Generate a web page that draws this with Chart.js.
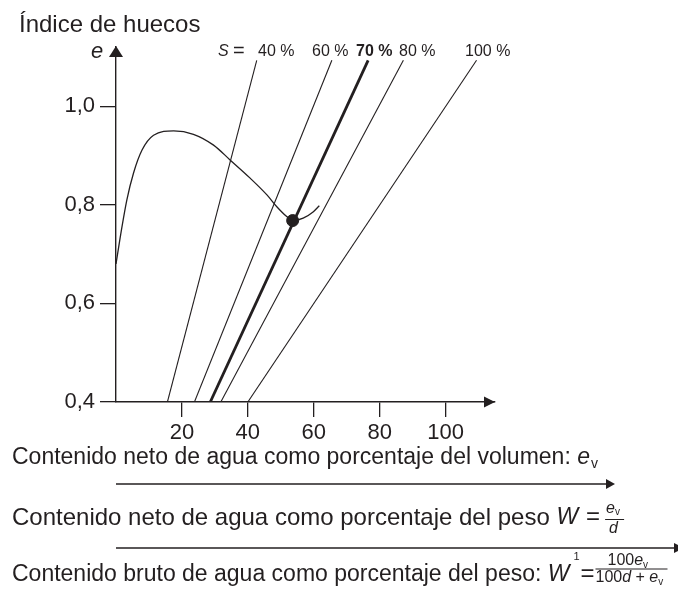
<!DOCTYPE html>
<html>
<head>
<meta charset="utf-8">
<script src="https://cdn.jsdelivr.net/npm/chart.js@4.4.1/dist/chart.umd.min.js"></script>
<style>
  body { margin: 0; background: #fff; }
  canvas { display: block; }
</style>
</head>
<body>
<canvas id="VoidChart" width="678" height="590"></canvas>
<script>
// values
const xTicks = [20, 40, 60, 80, 100];
const yTicks = [0.4, 0.6, 0.8, 1.0];
const yTickLabels = ['0,4', '0,6', '0,8', '1,0'];
const satLabels = ['40 %', '60 %', '70 %', '80 %', '100 %'];
const satAtLow = [15.6, 23.8, 28.6, 31.8, 40.0];   // e = 0.4
const satAtHigh = [42.7, 65.5, 76.5, 87.2, 109.4]; // e = eHigh
const eLow = 0.4;
const eHigh = 1.093;
const curveX = [0, 1.3, 3.3, 5.3, 7.9, 11.4, 17.5, 23.5, 29.6, 34.6, 40.7, 45.8, 48.8, 51.8, 53.6, 56.8, 59.9, 61.7];
const curveE = [0.68, 0.735, 0.81, 0.864, 0.911, 0.941, 0.95, 0.943, 0.921, 0.891, 0.854, 0.82, 0.796, 0.776, 0.768, 0.773, 0.786, 0.798];
const markX = [53.6];
const markE = [0.768];

const ink = '#231f20';
const fam = '"Liberation Sans", Arial, sans-serif';

const datasets = [];
for (let i = 0; i < satLabels.length; i++) {
  datasets.push({
    label: 'S = ' + satLabels[i],
    data: [{x: satAtLow[i], y: eLow}, {x: satAtHigh[i], y: eHigh}],
    borderColor: ink,
    borderWidth: satLabels[i] == '70 %' ? 2.8 : 1.1,
    pointRadius: 0
  });
}
datasets.push({
  label: 'curva',
  data: curveX.map((x, i) => ({x: x, y: curveE[i]})),
  borderColor: ink,
  borderWidth: 1.3,
  pointRadius: 0,
  cubicInterpolationMode: 'monotone'
});
datasets.push({
  label: 'punto',
  data: markX.map((x, i) => ({x: x, y: markE[i]})),
  showLine: false,
  pointRadius: 6,
  pointBackgroundColor: ink,
  pointBorderColor: ink
});

function tri(ctx, pts) {
  ctx.beginPath();
  ctx.moveTo(pts[0], pts[1]);
  ctx.lineTo(pts[2], pts[3]);
  ctx.lineTo(pts[4], pts[5]);
  ctx.closePath();
  ctx.fill();
}

function txt(ctx, s, x, y, f) {
  ctx.font = f;
  ctx.fillText(s, x, y);
  return x + ctx.measureText(s).width;
}

function hline(ctx, x1, x2, y, w) {
  ctx.lineWidth = w;
  ctx.beginPath();
  ctx.moveTo(x1, y);
  ctx.lineTo(x2, y);
  ctx.stroke();
}

const extras = {
  id: 'extras',
  afterDraw(chart) {
    const ctx = chart.ctx;
    const a = chart.chartArea;
    const xs = chart.scales.x;
    ctx.save();
    ctx.fillStyle = ink;
    ctx.strokeStyle = ink;
    // axis arrows
    tri(ctx, [a.left, a.top - 1, a.left - 7, a.top + 10, a.left + 7, a.top + 10]);
    tri(ctx, [a.right, a.bottom, a.right - 11, a.bottom - 5.5, a.right - 11, a.bottom + 5.5]);

    ctx.textBaseline = 'middle';
    ctx.textAlign = 'left';
    txt(ctx, 'Índice de huecos', 19, 25, '24px ' + fam);
    txt(ctx, 'e', 91, 52, 'italic 22px ' + fam);

    // saturation labels
    txt(ctx, 'S', 218, 52, 'italic 16px ' + fam);
    txt(ctx, '=', 233, 51, '20px ' + fam);
    txt(ctx, satLabels[0], 258, 52, '16px ' + fam);
    txt(ctx, satLabels[1], 312, 52, '16px ' + fam);
    txt(ctx, satLabels[2], 356, 52, 'bold 16px ' + fam);
    txt(ctx, satLabels[3], 399, 52, '16px ' + fam);
    txt(ctx, satLabels[4], 465, 52, '16px ' + fam);

    // caption 1
    let x = txt(ctx, 'Contenido neto de agua como porcentaje del volumen: ', 12, 458, '23px ' + fam);
    x = txt(ctx, 'e', x, 458, 'italic 23px ' + fam);
    txt(ctx, 'v', x + 1, 464, '14px ' + fam);
    hline(ctx, xs.getPixelForValue(0), 608, 484, 1.4);
    tri(ctx, [615, 484, 606, 479, 606, 489]);

    // caption 2
    x = txt(ctx, 'Contenido neto de agua como porcentaje del peso ', 12, 518, '24px ' + fam);
    x = txt(ctx, 'W', x, 518, 'italic 23px ' + fam);
    x = txt(ctx, '=', x + 8, 517, '24px ' + fam);
    let fx = x + 5;
    let e2 = txt(ctx, 'e', fx + 1, 509, 'italic 16px ' + fam);
    txt(ctx, 'v', e2, 512, '10px ' + fam);
    hline(ctx, fx, fx + 19, 519.5, 1);
    txt(ctx, 'd', fx + 4, 529, 'italic 16px ' + fam);

    hline(ctx, xs.getPixelForValue(0), 676, 548, 1.4);
    tri(ctx, [684, 548, 674, 543, 674, 553]);

    // caption 3
    x = txt(ctx, 'Contenido bruto de agua como porcentaje del peso: ', 12, 575, '23px ' + fam);
    x = txt(ctx, 'W', x, 575, 'italic 23px ' + fam);
    txt(ctx, '1', x + 4, 557, '11px ' + fam);
    x = txt(ctx, '=', x + 11, 574, '24px ' + fam);
    fx = x + 1;
    let nx = txt(ctx, '100', fx + 12, 561, '16px ' + fam);
    nx = txt(ctx, 'e', nx, 561, 'italic 16px ' + fam);
    txt(ctx, 'v', nx, 565, '10px ' + fam);
    hline(ctx, fx, fx + 72, 569, 1);
    let dx = txt(ctx, '100', fx, 578, '16px ' + fam);
    dx = txt(ctx, 'd', dx, 578, 'italic 16px ' + fam);
    dx = txt(ctx, ' + ', dx, 578, '16px ' + fam);
    dx = txt(ctx, 'e', dx, 578, 'italic 16px ' + fam);
    txt(ctx, 'v', dx, 582, '10px ' + fam);
    ctx.restore();
  }
};

const config = {
  type: 'line',
  data: { datasets: datasets },
  options: {
    responsive: false,
    animation: false,
    devicePixelRatio: 1,
    layout: { padding: { top: 47, right: 183, left: 0, bottom: 0 } },
    plugins: { legend: { display: false }, tooltip: { enabled: false } },
    scales: {
      x: {
        type: 'linear',
        min: 0,
        max: 115,
        afterBuildTicks: s => { s.ticks = xTicks.map(v => ({value: v})); },
        afterFit: s => { s.height = 188; },
        ticks: { color: ink, font: { family: fam, size: 22 }, padding: 3, maxRotation: 0, autoSkip: false },
        grid: { drawOnChartArea: false, tickLength: 15, color: ink, lineWidth: 1.3 },
        border: { color: ink, width: 1.4 }
      },
      y: {
        type: 'linear',
        min: 0.4,
        max: 1.12,
        afterBuildTicks: s => { s.ticks = yTicks.map(v => ({value: v})); },
        afterFit: s => { s.width = 116; },
        ticks: {
          color: ink, font: { family: fam, size: 22 }, padding: 5, autoSkip: false,
          callback: (v, i) => yTickLabels[i]
        },
        grid: { drawOnChartArea: false, tickLength: 16, color: ink, lineWidth: 1.3 },
        border: { color: ink, width: 1.4 }
      }
    }
  },
  plugins: [extras]
};

const myChart = new Chart(document.getElementById('VoidChart'), config);
</script>
</body>
</html>
